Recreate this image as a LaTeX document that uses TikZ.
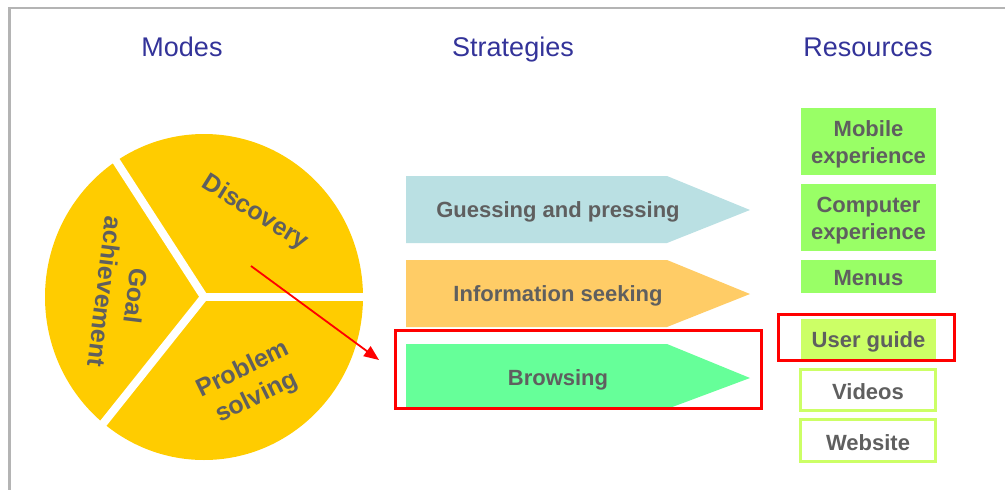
\documentclass[tikz,border=0pt]{standalone}
\usepackage{fontspec}
\setmainfont{Liberation Sans}
\usetikzlibrary{arrows.meta}
\definecolor{hdr}{HTML}{333399}
\definecolor{txt}{HTML}{5F5F5F}
\definecolor{pie}{HTML}{FFCC00}
\definecolor{guess}{HTML}{BAE0E3}
\definecolor{info}{HTML}{FFCC66}
\definecolor{brow}{HTML}{66FF99}
\definecolor{resA}{HTML}{99FF66}
\definecolor{resB}{HTML}{CCFF66}
\definecolor{frame}{HTML}{B4B4B4}
\tikzset{
  header/.style={font=\fontsize{27}{30}\selectfont, text=hdr, inner sep=0, anchor=base},
  pielabel/.style={font=\bfseries\fontsize{25}{31}\selectfont, text=txt, align=center, inner sep=0},
  stratlabel/.style={font=\bfseries\fontsize{22}{26}\selectfont, text=txt, inner sep=0},
  resbox/.style={fill=resA, minimum width=135pt, inner sep=0},
  resopen/.style={draw=resB, line width=3pt, fill=white, minimum width=135pt, inner sep=0},
  restext/.style={align=center, inner sep=0, font=\bfseries\fontsize{22}{27.5}\selectfont, text=txt},
  highlight/.style={draw=red, line width=3pt},
  gap/.style={draw=white, line width=8pt}
}
\begin{document}
\begin{tikzpicture}[x=1pt,y=-1pt]
\useasboundingbox (0,0) rectangle (1005,490);
% frame lines
\draw[frame, line width=2.5pt] (9.3,490) -- (9.3,8) -- (1005,8);

% headers
\node[header] (hmodes) at (182,56) {Modes};
\node[header] (hstrat) at (513,56) {Strategies};
\node[header] (hres) at (868,56) {Resources};

% pie
\coordinate (pc) at (204,297);
\fill[pie] (pc) ellipse [x radius=159, y radius=163];
\draw[gap] (pc) -- ++(175,0);
\draw[gap] (pc) -- ++(-95,-147);
\draw[gap] (pc) -- ++(-110,138);
\fill[white] (pc) circle (4);
\node[pielabel, rotate=-32] (disc) at (255,213) {Discovery};
\node[pielabel, rotate=-97] (goal) at (121,294) {Goal\\achievement};
\node[pielabel, rotate=26] (prob) at (250,384) {Problem\\solving};

% strategies
\fill[guess] (406,176) -- (667,176) -- (750,210) -- (667,243) -- (406,243) -- cycle;
\fill[info] (406,260) -- (667,260) -- (750,294) -- (667,327) -- (406,327) -- cycle;
\fill[brow] (406,344) -- (667,344) -- (750,378) -- (667,409) -- (406,409) -- cycle;
\node[stratlabel] (sguess) at (558,212) {Guessing and pressing};
\node[stratlabel] (sinfo) at (558,296) {Information seeking};
\node[stratlabel] (sbrow) at (558,380) {Browsing};
\draw[highlight] (395.5,330.5) rectangle (761.5,408.5);

% resources
\node[resbox, minimum height=67pt] (rmob) at (868.5,141.5) {};
\node[resbox, minimum height=67pt] (rcomp) at (868.5,217.5) {};
\node[resbox, minimum height=33pt] (rmenu) at (868.5,276.5) {};
\node[resbox, fill=resB, minimum height=40pt] (rguide) at (868.5,339) {};
\node[resopen, minimum height=41pt] (rvid) at (868,390) {};
\node[resopen, minimum height=42pt] (rweb) at (868,440.5) {};
\node[restext] (tmob) at ([yshift=-3pt]rmob.center) {Mobile\\experience};
\node[restext] (tcomp) at ([yshift=-3pt]rcomp.center) {Computer\\experience};
\node[restext] (tmenu) at ([yshift=-2pt]rmenu.center) {Menus};
\node[restext] (tguide) at ([yshift=-3pt]rguide.center) {User guide};
\node[restext] (tvid) at ([yshift=-2pt]rvid.center) {Videos};
\node[restext] (tweb) at ([yshift=-2pt]rweb.center) {Website};
\draw[highlight] (778.5,314.5) rectangle (954.5,360.5);

% red arrow
\coordinate (astart) at (251,266);
\coordinate (aend) at (379,360);
\draw[red, line width=1.8pt, -{Triangle[length=15pt,width=12pt]}] (astart) -- (aend);
\end{tikzpicture}
\end{document}
